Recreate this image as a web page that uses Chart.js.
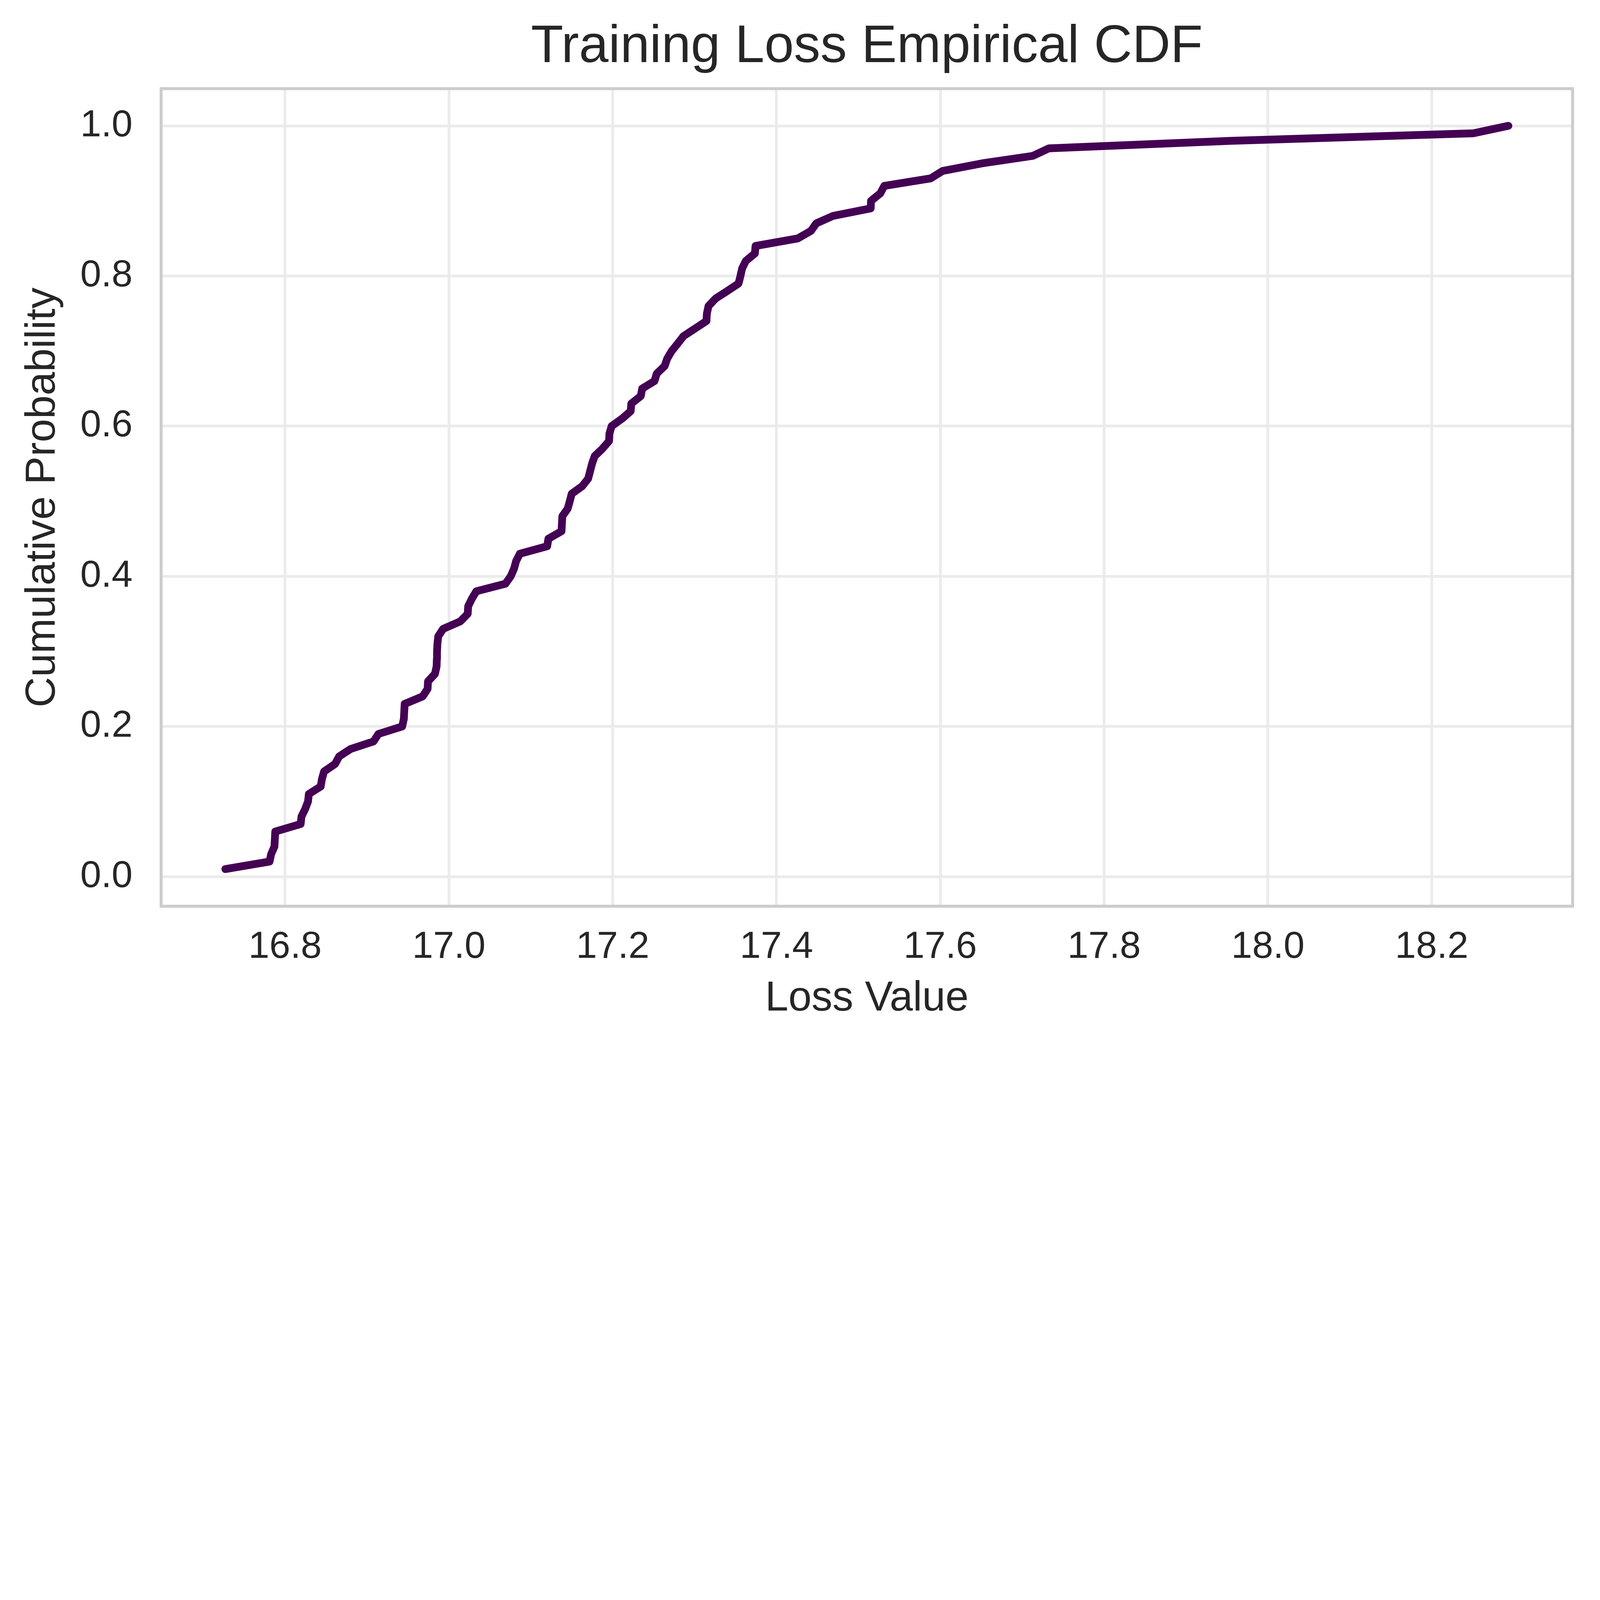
<!DOCTYPE html>
<html>
<head>
<meta charset="utf-8">
<script src="https://cdn.jsdelivr.net/npm/chart.js@4.4.1/dist/chart.umd.min.js"></script>
<style>
  html, body { margin: 0; padding: 0; background: #fff; overflow: hidden; }
</style>
</head>
<body>
<div id="wrap"><canvas id="cdf"></canvas></div>
<script>
// sorted loss values
const lossValues = [
  16.727, 16.781, 16.783, 16.787, 16.7875, 16.788, 16.819, 16.820, 16.8245, 16.828,
  16.829, 16.8435, 16.845, 16.8476, 16.861, 16.866, 16.880, 16.908, 16.914, 16.943,
  16.945, 16.9455, 16.946, 16.968, 16.974, 16.9745, 16.983, 16.985, 16.9853, 16.9855,
  16.986, 16.987, 16.993, 17.014, 17.023, 17.0235, 17.028, 17.0335, 17.069, 17.0755,
  17.0795, 17.082, 17.0866, 17.120, 17.1215, 17.1375, 17.138, 17.1385, 17.145, 17.1476,
  17.150, 17.1628, 17.170, 17.1724, 17.1748, 17.178, 17.1875, 17.1955, 17.196, 17.1987,
  17.2115, 17.222, 17.2227, 17.2343, 17.236, 17.251, 17.2538, 17.2634, 17.2666, 17.272,
  17.2794, 17.2866, 17.3006, 17.3145, 17.315, 17.317, 17.3257, 17.340, 17.3537, 17.356,
  17.358, 17.3625, 17.3736, 17.3744, 17.426, 17.442, 17.4485, 17.469, 17.515, 17.5154,
  17.5267, 17.5316, 17.5883, 17.603, 17.651, 17.713, 17.7326, 17.955, 18.2507, 18.2937
];
const cumProb = [
  0.01, 0.02, 0.03, 0.04, 0.05, 0.06, 0.07, 0.08, 0.09, 0.10,
  0.11, 0.12, 0.13, 0.14, 0.15, 0.16, 0.17, 0.18, 0.19, 0.20,
  0.21, 0.22, 0.23, 0.24, 0.25, 0.26, 0.27, 0.28, 0.29, 0.30,
  0.31, 0.32, 0.33, 0.34, 0.35, 0.36, 0.37, 0.38, 0.39, 0.40,
  0.41, 0.42, 0.43, 0.44, 0.45, 0.46, 0.47, 0.48, 0.49, 0.50,
  0.51, 0.52, 0.53, 0.54, 0.55, 0.56, 0.57, 0.58, 0.59, 0.60,
  0.61, 0.62, 0.63, 0.64, 0.65, 0.66, 0.67, 0.68, 0.69, 0.70,
  0.71, 0.72, 0.73, 0.74, 0.75, 0.76, 0.77, 0.78, 0.79, 0.80,
  0.81, 0.82, 0.83, 0.84, 0.85, 0.86, 0.87, 0.88, 0.89, 0.90,
  0.91, 0.92, 0.93, 0.94, 0.95, 0.96, 0.97, 0.98, 0.99, 1.00
];
const xTicks = [16.8, 17.0, 17.2, 17.4, 17.6, 17.8, 18.0, 18.2];
const yTicks = [0.0, 0.2, 0.4, 0.6, 0.8, 1.0];

// the design is laid out for 7010x4594; shrink it to whatever window we get
const K = Math.min(window.innerWidth / 7010, window.innerHeight / 4594);
const px = v => v * K;
const W = Math.floor(px(7010));
const H = Math.floor(px(4594));

// matplotlib-like 5% margins around the data
const xSpan = lossValues[lossValues.length - 1] - lossValues[0];
const ySpan = cumProb[cumProb.length - 1] - cumProb[0];
const xMin = lossValues[0] - 0.05 * xSpan;
const xMax = lossValues[lossValues.length - 1] + 0.05 * xSpan;
const yMin = cumProb[0] - 0.05 * ySpan;
const yMax = cumProb[cumProb.length - 1] + 0.05 * ySpan;

const points = lossValues.map((v, i) => ({ x: v, y: cumProb[i] }));

const FONT = "'Liberation Sans', Arial, sans-serif";
const TEXT = '#262626';

const canvas = document.getElementById('cdf');
canvas.width = W;
canvas.height = H;
document.getElementById('wrap').style.width = W + 'px';
document.getElementById('wrap').style.height = H + 'px';

// white page + grey box round the axes
const frame = {
  id: 'frame',
  beforeDraw(chart) {
    const ctx = chart.ctx;
    ctx.save();
    ctx.fillStyle = '#ffffff';
    ctx.fillRect(0, 0, chart.width, chart.height);
    ctx.restore();
  },
  beforeDatasetsDraw(chart) {
    const { ctx, chartArea: a } = chart;
    ctx.save();
    ctx.strokeStyle = '#cccccc';
    ctx.lineWidth = px(13);
    ctx.strokeRect(a.left, a.top, a.right - a.left, a.bottom - a.top);
    ctx.restore();
  }
};

new Chart(canvas, {
  type: 'line',
  data: {
    datasets: [{
      label: 'ECDF',
      data: points,
      borderColor: '#440154',
      borderWidth: px(34),
      borderCapStyle: 'round',
      borderJoinStyle: 'round',
      pointRadius: 0,
      tension: 0,
      fill: false
    }]
  },
  options: {
    responsive: false,
    animation: false,
    devicePixelRatio: 1,
    layout: { padding: { left: 0, right: px(120), top: 0, bottom: 0 } },
    plugins: {
      legend: { display: false },
      tooltip: { enabled: false },
      title: {
        display: true,
        text: 'Training Loss Empirical CDF',
        fullSize: false,
        color: TEXT,
        font: { family: FONT, size: px(232), weight: 'normal', lineHeight: 1.2 },
        padding: { top: px(69), bottom: px(41) }
      }
    },
    scales: {
      x: {
        type: 'linear',
        min: xMin,
        max: xMax,
        afterBuildTicks: s => { s.ticks = xTicks.map(v => ({ value: v })); },
        afterFit: s => { s.height = px(623); },
        grid: { color: '#ebebeb', lineWidth: px(12), drawTicks: false },
        border: { display: false },
        ticks: {
          color: TEXT,
          padding: px(81),
          maxRotation: 0,
          font: { family: FONT, size: px(165), lineHeight: 1.2 },
          callback: v => Number(v).toFixed(1)
        },
        title: {
          display: true,
          text: 'Loss Value',
          color: TEXT,
          font: { family: FONT, size: px(183), lineHeight: 1.2 },
          padding: { top: 0, bottom: px(106) }
        }
      },
      y: {
        type: 'linear',
        min: yMin,
        max: yMax,
        afterBuildTicks: s => { s.ticks = yTicks.map(v => ({ value: v })); },
        afterFit: s => { s.width = px(706); },
        grid: { color: '#ebebeb', lineWidth: px(12), drawTicks: false },
        border: { display: false },
        ticks: {
          color: TEXT,
          padding: px(125),
          font: { family: FONT, size: px(165), lineHeight: 1.2 },
          callback: v => Number(v).toFixed(1)
        },
        title: {
          display: true,
          text: 'Cumulative Probability',
          color: TEXT,
          font: { family: FONT, size: px(185), lineHeight: 1.2 },
          padding: { top: px(77), bottom: 0 }
        }
      }
    }
  },
  plugins: [frame]
});
</script>
</body>
</html>
